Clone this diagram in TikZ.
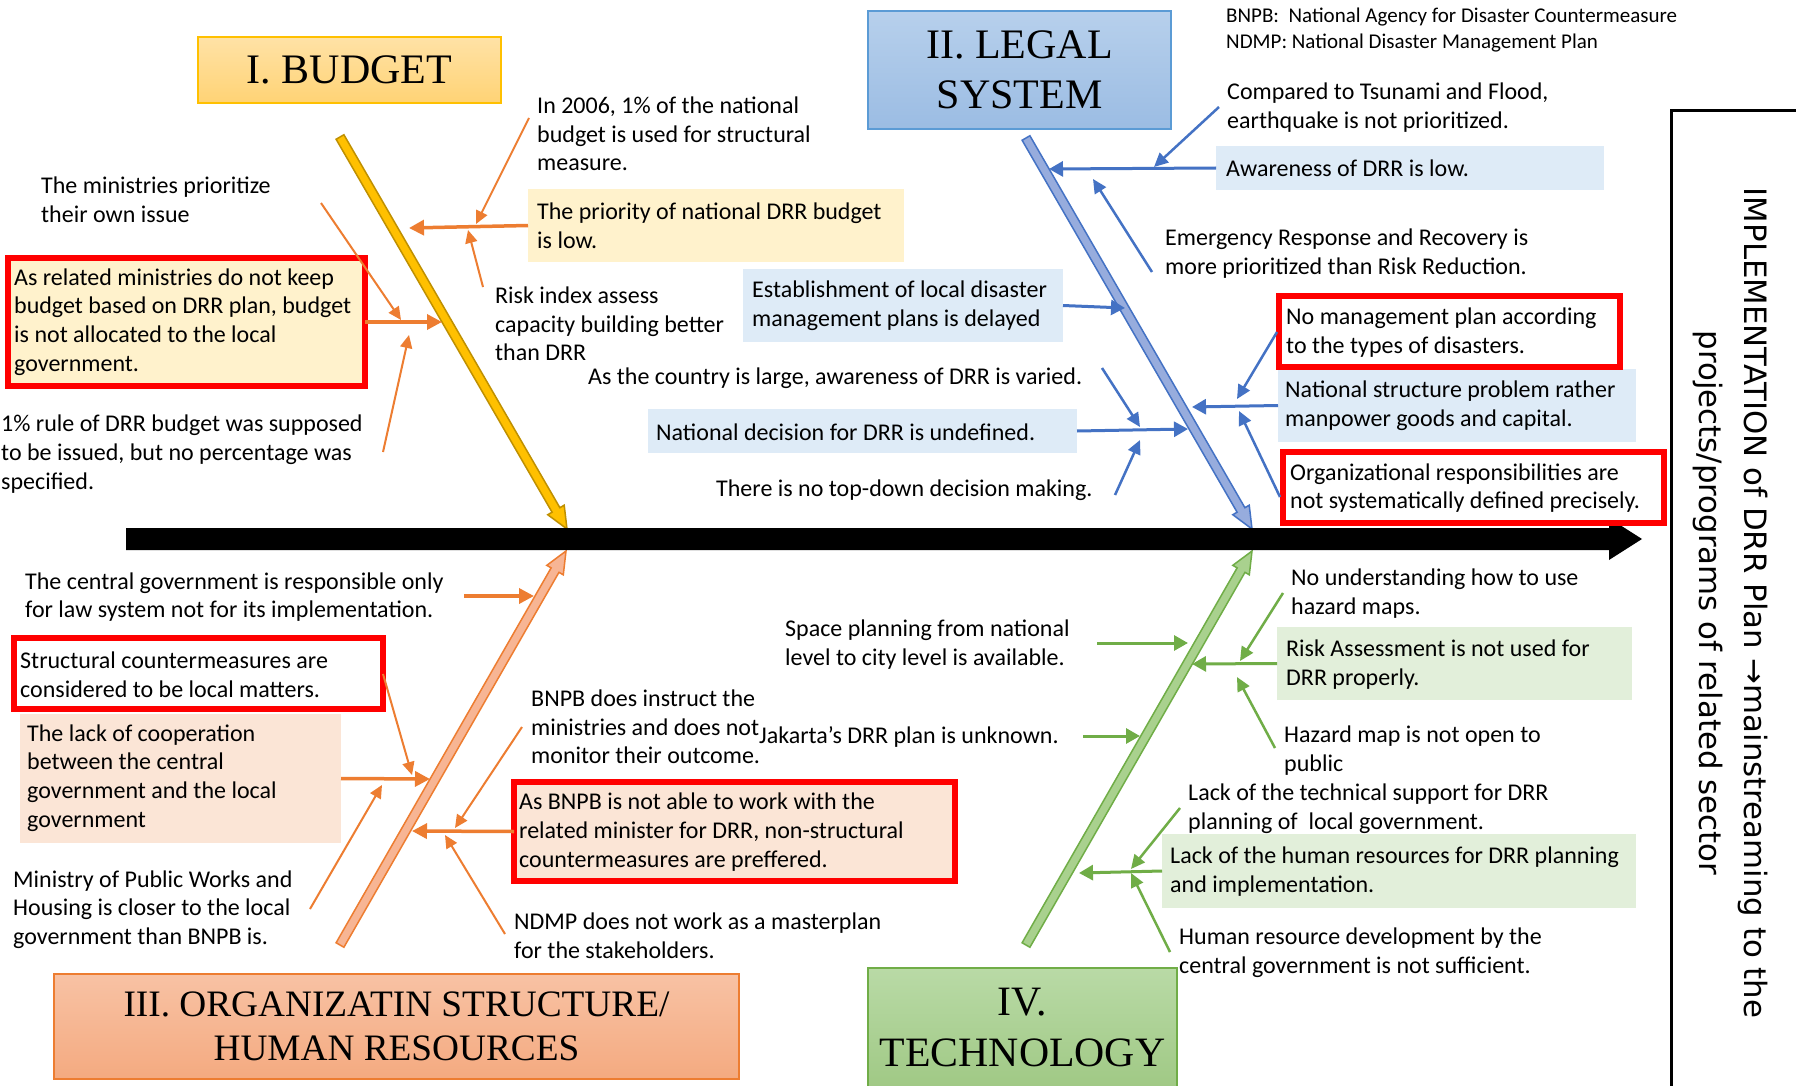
\documentclass[tikz,border=0pt]{standalone}
\usepackage{fontspec}
\setmainfont{Carlito}
\newfontfamily\titlefont{Liberation Serif}
\newfontfamily\sidefont{DejaVu Sans}
\usetikzlibrary{arrows.meta,calc}

\definecolor{arrOrange}{HTML}{ED7D31}
\definecolor{arrBlue}{HTML}{4472C4}
\definecolor{arrGreen}{HTML}{70AD47}
\definecolor{fillYellow}{HTML}{FFF2CC}
\definecolor{fillBlue}{HTML}{DEEBF7}
\definecolor{fillPeach}{HTML}{FBE5D6}
\definecolor{fillGreen}{HTML}{E2EFDA}
\definecolor{redBorder}{HTML}{FF0000}
\definecolor{boneGold}{HTML}{FFC000}
\definecolor{boneGoldLine}{HTML}{BF9000}
\definecolor{boneBlue}{HTML}{97ACDD}
\definecolor{boneSalmon}{HTML}{F7B594}
\definecolor{boneGreen}{HTML}{A9D18E}
\definecolor{legalLine}{HTML}{5B9BD5}
\definecolor{budTop}{HTML}{FFE2A6}
\definecolor{budBot}{HTML}{FFD375}
\definecolor{legTop}{HTML}{B7D0EC}
\definecolor{legBot}{HTML}{9BBCE3}
\definecolor{orgTop}{HTML}{F8C2A4}
\definecolor{orgBot}{HTML}{F4AA80}
\definecolor{tecTop}{HTML}{B9DAA6}
\definecolor{tecBot}{HTML}{A0C985}

\newcommand\bodyfont{\fontsize{24}{28.7}\selectfont}
\newcommand\notefont{\fontsize{21}{26}\selectfont}

% block arrow from #2 to #3 (named coordinates), #1 = prefix for helper point
\newcommand\drawbone[5]{%
  \coordinate (#1hb) at ($(#3)!22pt!(#2)$);
  \filldraw[fill=#4, draw=#5, line width=1.5pt, line join=miter]
    ($(#2)!4.5pt!90:(#3)$) -- ($(#1hb)!4.5pt!90:(#3)$) -- ($(#1hb)!9.5pt!90:(#3)$)
    -- (#3) -- ($(#1hb)!9.5pt!-90:(#3)$) -- ($(#1hb)!4.5pt!-90:(#3)$)
    -- ($(#2)!4.5pt!-90:(#3)$) -- cycle;
}

\begin{document}
\begin{tikzpicture}[x=1pt,y=-1pt,
  txt/.style={font=\bodyfont, align=left, inner sep=0pt, anchor=west},
  note/.style={font=\notefont, align=left, inner sep=0pt, anchor=west},
  panel/.style={inner sep=0pt, outer sep=0pt, anchor=north west, draw=none},
  flagged/.style={panel, draw=redBorder, line width=6pt},
  title/.style={inner sep=0pt, outer sep=0pt, anchor=north west, line width=1.5pt, align=center},
  obr/.style={draw=arrOrange, line width=3.5pt, -{Triangle[length=15pt,width=15pt]}},
  osub/.style={draw=arrOrange, line width=2pt, -{Triangle[length=13pt,width=12pt]}},
  bbr/.style={draw=arrBlue, line width=3pt, -{Triangle[length=14pt,width=15pt]}},
  bsub/.style={draw=arrBlue, line width=2.5pt, -{Triangle[length=14pt,width=13pt]}},
  gbr/.style={draw=arrGreen, line width=3pt, -{Triangle[length=14pt,width=15pt]}},
  gsub/.style={draw=arrGreen, line width=2.5pt, -{Triangle[length=14pt,width=13pt]}}
]
\useasboundingbox (0,0) rectangle (1796,1086);
\fill[white] (0,0) rectangle (1796,1086);
\clip (0,0) rectangle (1796,1086);

% ---------- category titles ----------
\node[title, draw=boneGold, top color=budTop, bottom color=budBot,
      minimum width=303pt, minimum height=66pt,
      font=\titlefont\fontsize{42}{50}\selectfont] (tBudget) at (198,37) {I. BUDGET};
\node[title, draw=legalLine, top color=legTop, bottom color=legBot,
      minimum width=303pt, minimum height=118pt,
      font=\titlefont\fontsize{42}{50}\selectfont] (tLegal) at (868,11) {II. LEGAL\\SYSTEM};
\node[title, draw=arrOrange, top color=orgTop, bottom color=orgBot,
      minimum width=685pt, minimum height=105pt,
      font=\titlefont\fontsize{37.3}{44.5}\selectfont] (tOrg) at (54,974) {III. ORGANIZATIN STRUCTURE/\\HUMAN RESOURCES};
\node[title, draw=arrGreen, top color=tecTop, bottom color=tecBot,
      minimum width=309pt, minimum height=119pt,
      font=\titlefont\fontsize{41.8}{51}\selectfont] (tTech) at (868,968) {IV.\\TECHNOLOGY};

% ---------- bones ----------
\coordinate (budS) at (340,137);  \coordinate (budE) at (567,529);
\coordinate (legS) at (1026,138); \coordinate (legE) at (1252,529);
\coordinate (orgS) at (340,945);  \coordinate (orgE) at (566,551);
\coordinate (tecS) at (1026,945); \coordinate (tecE) at (1252,551);
\drawbone{bud}{budS}{budE}{boneGold}{boneGoldLine}
\drawbone{leg}{legS}{legE}{boneBlue}{arrBlue}
\drawbone{org}{orgS}{orgE}{boneSalmon}{arrOrange}
\drawbone{tec}{tecS}{tecE}{boneGreen}{arrGreen}

% ---------- main spine ----------
\fill[black] (126,528) -- (1609,528) -- (1609,518) -- (1642,539) -- (1609,560)
  -- (1609,550) -- (126,550) -- cycle;

% ---------- implementation frame ----------
\coordinate (frTR) at (1800,111);
\coordinate (frTL) at (1671,111);
\coordinate (frBL) at (1671,1090);
\draw[line width=3pt] (frTR) -- (frTL) -- (frBL);
\node[rotate=-90, align=center, inner sep=0pt,
      font=\sidefont\fontsize{30.8}{45}\selectfont] (goal) at (1730,603)
  {IMPLEMENTATION of DRR Plan →mainstreaming to the\\projects/programs of related sector};

% ---------- boxes ----------
\node[panel, fill=fillYellow, minimum width=376pt, minimum height=73pt] (b2) at (528,189) {};
\node[flagged, fill=fillYellow, minimum width=357pt, minimum height=128pt] (b5) at (8,258) {};
\node[panel, fill=fillBlue, minimum width=388pt, minimum height=44pt] (b9) at (1216,146) {};
\node[panel, fill=fillBlue, minimum width=320pt, minimum height=73pt] (b11) at (743,269) {};
\node[panel, fill=fillBlue, minimum width=358pt, minimum height=73pt] (b14) at (1278,369) {};
\node[flagged, fill=white, minimum width=341pt, minimum height=71pt] (b12) at (1279,296) {};
\node[panel, fill=fillBlue, minimum width=429pt, minimum height=44pt] (b15) at (648,409) {};
\node[flagged, fill=white, minimum width=381pt, minimum height=71pt] (b16) at (1283,452) {};
\node[flagged, fill=white, minimum width=369pt, minimum height=71pt] (b19) at (14,638) {};
\node[panel, fill=fillPeach, minimum width=321pt, minimum height=129pt] (b20) at (20,714) {};
\node[flagged, fill=fillPeach, minimum width=441pt, minimum height=99pt] (b23) at (514,782) {};
\node[panel, fill=fillGreen, minimum width=355pt, minimum height=73pt] (b28) at (1277,627) {};
\node[panel, fill=fillGreen, minimum width=474pt, minimum height=74pt] (b31) at (1162,834) {};

% ---------- texts: budget ----------
\node[txt] (n1) at (537,134) {In 2006, 1\% of the national\\budget is used for structural\\measure.};
\node[txt] (t2) at (537,225.5) {The priority of national DRR budget\\is low.};
\node[txt] (n3) at (495,324) {Risk index assess\\capacity building better\\than DRR};
\node[txt] (n4) at (41,200) {The ministries prioritize\\their own issue};
\node[txt] (t5) at (14,322) {As related ministries do not keep\\budget based on DRR plan, budget\\is not allocated to the local\\government.};
\node[txt] (n6) at (1,454) {1\% rule of DRR budget was supposed\\to be issued, but no percentage was\\specified.};

% ---------- texts: legal system ----------
\node[note] (n7) at (1226,30) {BNPB:~ National Agency for Disaster Countermeasure\\NDMP: National Disaster Management Plan};
\node[txt] (n8) at (1227,107.5) {Compared to Tsunami and Flood,\\earthquake is not prioritized.};
\node[txt] (t9) at (1226,168) {Awareness of DRR is low.};
\node[txt] (n10) at (1165,253.5) {Emergency Response and Recovery is\\more prioritized than Risk Reduction.};
\node[txt] (t11) at (752,305.5) {Establishment of local disaster\\management plans is delayed};
\node[txt] (t12) at (1286,332.5) {No management plan according\\to the types of disasters.};
\node[txt] (n13) at (588,378) {As the country is large, awareness of DRR is varied.};
\node[txt] (t14) at (1285,406) {National structure problem rather\\manpower goods and capital.};
\node[txt] (t15) at (656,432) {National decision for DRR is undefined.};
\node[txt] (t16) at (1290,488) {Organizational responsibilities are\\not systematically defined precisely.};
\node[txt] (n17) at (716,490) {There is no top-down decision making.};

% ---------- texts: organization ----------
\node[txt] (n18) at (25,597) {The central government is responsible only\\for law system not for its implementation.};
\node[txt] (t19) at (20,674.5) {Structural countermeasures are\\considered to be local matters.};
\node[txt] (t20) at (27,778) {The lack of cooperation\\between the central\\government and the local\\government};
\node[txt] (n21) at (13,909.5) {Ministry of Public Works and\\Housing is closer to the local\\government than BNPB is.};
\node[txt] (n22) at (531,727) {BNPB does instruct the\\ministries and does not\\monitor their outcome.};
\node[txt] (t23) at (519,832) {As BNPB is not able to work with the\\related minister for DRR, non-structural\\countermeasures are preffered.};
\node[txt] (n24) at (514,936) {NDMP does not work as a masterplan\\for the stakeholders.};

% ---------- texts: technology ----------
\node[txt] (n25) at (785,644.5) {Space planning from national\\level to city level is available.};
\node[txt] (n26) at (759,737) {Jakarta’s DRR plan is unknown.};
\node[txt] (n27) at (1291,593.5) {No understanding how to use\\hazard maps.};
\node[txt] (t28) at (1286,664.5) {Risk Assessment is not used for\\DRR properly.};
\node[txt] (n29) at (1284,750.5) {Hazard map is not open to\\public};
\node[txt] (n30) at (1188,809) {Lack of the technical support for DRR\\planning of~ local government.};
\node[txt] (t31) at (1170,871.5) {Lack of the human resources for DRR planning\\and implementation.};
\node[txt] (n32) at (1179,952.5) {Human resource development by the\\central government is not sufficient.};

% ---------- arrow end points ----------
\coordinate (a2e) at (409,228);
\coordinate (a1s) at (529,118);  \coordinate (a1e) at (476,224);
\coordinate (a3s) at (483,287);  \coordinate (a3e) at (468,230);
\coordinate (a5e) at (442,322);
\coordinate (a4s) at (321,203);  \coordinate (a4e) at (401,320);
\coordinate (a6s) at (383,452);  \coordinate (a6e) at (409,335);

\coordinate (a9e) at (1049,169);
\coordinate (a8s) at (1219,107);  \coordinate (a8e) at (1154,167);
\coordinate (a10s) at (1152,272); \coordinate (a10e) at (1093,179);
\coordinate (a11e) at (1125,308);
\coordinate (a13s) at (1102,368); \coordinate (a13e) at (1140,427);
\coordinate (a15e) at (1188,429);
\coordinate (a17s) at (1115,495); \coordinate (a17e) at (1140,440);
\coordinate (a14e) at (1192,407);
\coordinate (a12s) at (1277,332); \coordinate (a12e) at (1237,399);
\coordinate (a16s) at (1280,497); \coordinate (a16e) at (1239,411);

\coordinate (a18s) at (464,596);  \coordinate (a18e) at (534,596);
\coordinate (a20e) at (430,779);
\coordinate (a19s) at (383,674);  \coordinate (a19e) at (412,775);
\coordinate (a21s) at (310,909);  \coordinate (a21e) at (382,785);
\coordinate (a23e) at (412,831);
\coordinate (a22s) at (522,727);  \coordinate (a22e) at (455,828);
\coordinate (a24s) at (505,934);  \coordinate (a24e) at (445,835);

\coordinate (a25s) at (1097,643); \coordinate (a25e) at (1188,643);
\coordinate (a26s) at (1083,736); \coordinate (a26e) at (1140,736);
\coordinate (a28e) at (1192,664);
\coordinate (a27s) at (1283,593); \coordinate (a27e) at (1240,661);
\coordinate (a29s) at (1275,748); \coordinate (a29e) at (1237,677);
\coordinate (a31e) at (1079,873);
\coordinate (a30s) at (1180,808); \coordinate (a30e) at (1131,869);
\coordinate (a32s) at (1170,952); \coordinate (a32e) at (1131,873);

% ---------- arrows: budget ----------
\draw[obr] (b2.west) -- (a2e);
\draw[osub] (a1s) -- (a1e);
\draw[osub] (a3s) -- (a3e);
\draw[obr] (b5.east) -- (a5e);
\draw[osub] (a4s) -- (a4e);
\draw[osub] (a6s) -- (a6e);

% ---------- arrows: legal system ----------
\draw[bbr] (b9.west) -- (a9e);
\draw[bsub] (a8s) -- (a8e);
\draw[bsub] (a10s) -- (a10e);
\draw[bbr] (b11.east) -- (a11e);
\draw[bsub] (a13s) -- (a13e);
\draw[bbr] (b15.east) -- (a15e);
\draw[bsub] (a17s) -- (a17e);
\draw[bbr] (b14.west) -- (a14e);
\draw[bsub] (a12s) -- (a12e);
\draw[bsub] (a16s) -- (a16e);

% ---------- arrows: organization ----------
\draw[obr] (a18s) -- (a18e);
\draw[obr] (b20.east) -- (a20e);
\draw[osub] (a19s) -- (a19e);
\draw[osub] (a21s) -- (a21e);
\draw[obr] (b23.west) -- (a23e);
\draw[osub] (a22s) -- (a22e);
\draw[osub] (a24s) -- (a24e);

% ---------- arrows: technology ----------
\draw[gbr] (a25s) -- (a25e);
\draw[gbr] (a26s) -- (a26e);
\draw[gbr] (b28.west) -- (a28e);
\draw[gsub] (a27s) -- (a27e);
\draw[gsub] (a29s) -- (a29e);
\draw[gbr] (b31.west) -- (a31e);
\draw[gsub] (a30s) -- (a30e);
\draw[gsub] (a32s) -- (a32e);
\end{tikzpicture}
\end{document}
